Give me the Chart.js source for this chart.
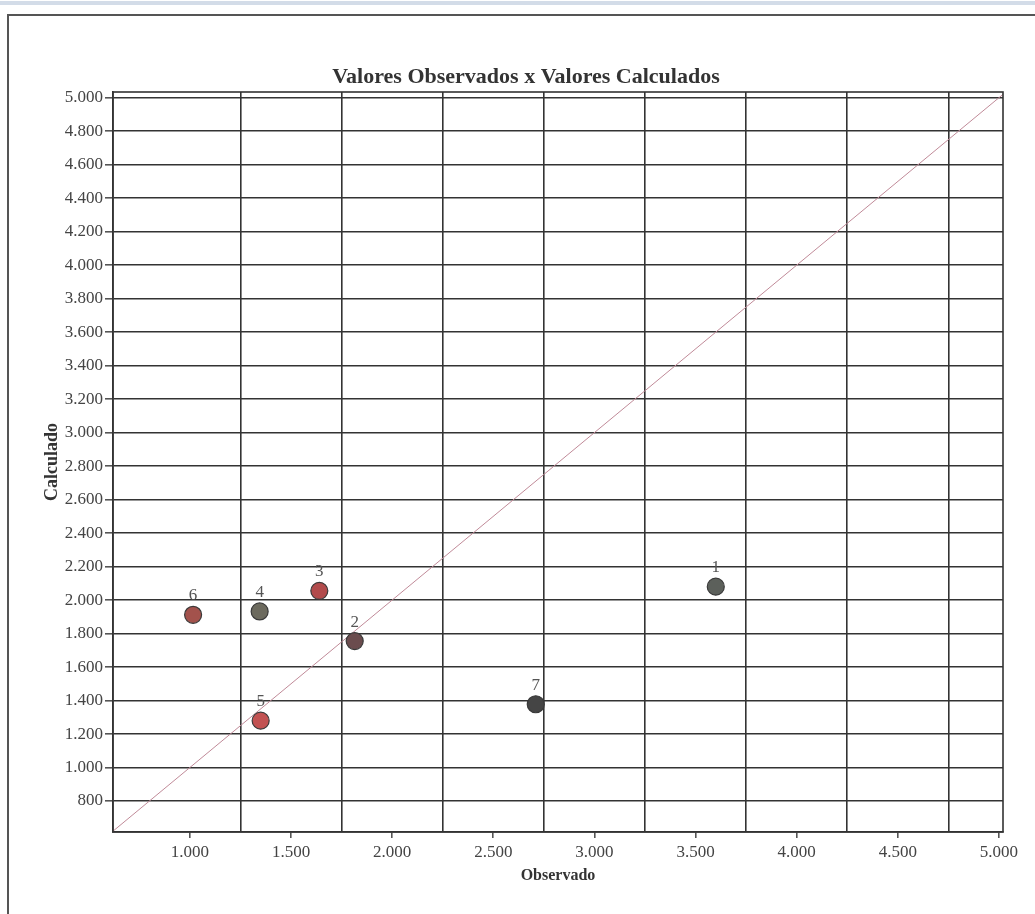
<!DOCTYPE html>
<html>
<head>
<meta charset="utf-8">
<title>Valores Observados x Valores Calculados</title>
<script src="https://cdn.jsdelivr.net/npm/chart.js@4.4.1/dist/chart.umd.min.js"></script>
<style>
    body { margin: 0; background: #fff; overflow: hidden; }
    #strip { position: absolute; left: 0; top: 1px; width: 1035px; height: 4px; background: #d3dce8; }
    #frame { position: absolute; left: 7px; top: 14px; width: 1100px; height: 1000px; border: 2px solid #555; }
    #container { position: absolute; left: 0; top: 0; width: 1035px; height: 914px; }
</style>
</head>
<body>
<div id="strip"></div>
<div id="frame"></div>
<div id="container"><canvas id="grafico"></canvas></div>
<script>
// pontos numerados (observado x calculado)
var pointLabels = ['1', '2', '3', '4', '5', '6', '7'];
var observado = [3600, 1815, 1640, 1345, 1350, 1016, 2710];
var calculado = [2080, 1755, 2055, 1932, 1280, 1912, 1378];
var pointColors = ['#5c605b', '#6b4c4e', '#b24b4c', '#6c6a5e', '#c25252', '#a3524c', '#454545'];

// reta y = x
var diagX = [620, 5020];
var diagY = [620, 5020];

// ticks
var xTickValues = [1000, 1500, 2000, 2500, 3000, 3500, 4000, 4500, 5000];
var xGridValues = [1250, 1750, 2250, 2750, 3250, 3750, 4250, 4750];
var yTickValues = [800, 1000, 1200, 1400, 1600, 1800, 2000, 2200, 2400, 2600, 2800, 3000,
    3200, 3400, 3600, 3800, 4000, 4200, 4400, 4600, 4800, 5000];

function fmt(v) { // 1000 -> 1.000
    var s = String(Math.round(v));
    return s.replace(/\B(?=(\d{3})+(?!\d))/g, '.');
}

var pontos = observado.map(function(x, i) {
    return { x: x, y: calculado[i] };
});
var diagonal = diagX.map(function(x, i) {
    return { x: x, y: diagY[i] };
});

// moldura da area do grafico e numeros dos pontos
var extras = {
    id: 'extras',
    afterDraw: function(chart) {
        var ctx = chart.ctx, a = chart.chartArea;
        ctx.save();
        ctx.strokeStyle = '#333';
        ctx.lineWidth = 1.6;
        ctx.strokeRect(a.left, a.top, a.right - a.left, a.bottom - a.top);
        var meta = chart.getDatasetMeta(0);
        ctx.fillStyle = '#555';
        ctx.font = '17px "Liberation Serif"';
        ctx.textAlign = 'center';
        ctx.textBaseline = 'middle';
        meta.data.forEach(function(el, i) {
            ctx.fillText(pointLabels[i], el.x, el.y - 19);
        });
        ctx.restore();
    }
};

var ctx = document.getElementById('grafico').getContext('2d');
new Chart(ctx, {
    type: 'scatter',
    data: {
        datasets: [{
            label: 'Pontos',
            data: pontos,
            pointRadius: 8.5,
            pointHoverRadius: 8.5,
            pointBackgroundColor: pointColors,
            pointBorderColor: '#3a3a3a',
            pointBorderWidth: 1.2
        }, {
            type: 'line',
            label: 'y = x',
            data: diagonal,
            borderColor: '#c08a98',
            borderWidth: 1,
            pointRadius: 0,
            fill: false
        }]
    },
    options: {
        responsive: true,
        maintainAspectRatio: false,
        animation: false,
        events: [],
        layout: { padding: { left: 49, right: 32, top: 0, bottom: 0 } },
        plugins: {
            legend: { display: false },
            tooltip: { enabled: false },
            title: {
                display: true,
                text: 'Valores Observados x Valores Calculados',
                color: '#333',
                font: { family: 'Liberation Serif', size: 22, weight: 'bold' },
                padding: { top: 63.8, bottom: 1.8 }
            }
        },
        scales: {
            x: {
                type: 'linear',
                min: 620,
                max: 5020,
                afterBuildTicks: function(scale) {
                    scale.ticks = xTickValues.concat(xGridValues).sort(function(a, b) { return a - b; })
                        .map(function(v) { return { value: v }; });
                },
                afterFit: function(scale) { scale.height = 82; },
                ticks: {
                    color: '#444',
                    font: { family: 'Liberation Serif', size: 17 },
                    padding: 4,
                    maxRotation: 0,
                    autoSkip: false,
                    callback: function(v) { return v % 500 === 0 ? fmt(v) : ''; }
                },
                grid: {
                    lineWidth: 1.6,
                    tickLength: 6,
                    color: function(c) { return c.tick && c.tick.value % 500 === 250 ? '#333' : 'rgba(0,0,0,0)'; },
                    tickColor: function(c) { return c.tick && c.tick.value % 500 === 0 ? '#555' : 'rgba(0,0,0,0)'; }
                },
                border: { color: '#333', width: 1.6 },
                title: {
                    display: true,
                    text: 'Observado',
                    color: '#333',
                    font: { family: 'Liberation Serif', size: 16, weight: 'bold' },
                    padding: { top: 0, bottom: 28.4 }
                }
            },
            y: {
                type: 'linear',
                min: 615,
                max: 5034,
                afterBuildTicks: function(scale) {
                    scale.ticks = yTickValues.map(function(v) { return { value: v }; });
                },
                afterFit: function(scale) { scale.width = 64; },
                ticks: {
                    color: '#444',
                    font: { family: 'Liberation Serif', size: 17 },
                    padding: 2,
                    autoSkip: false,
                    callback: function(v) { return fmt(v); }
                },
                grid: {
                    lineWidth: 1.6,
                    tickLength: 8,
                    color: '#333',
                    tickColor: '#555'
                },
                border: { color: '#333', width: 1.6 },
                title: {
                    display: true,
                    text: 'Calculado',
                    color: '#333',
                    font: { family: 'Liberation Serif', size: 18, weight: 'bold' },
                    padding: { top: -7, bottom: 0 }
                }
            }
        }
    },
    plugins: [extras]
});
</script>
</body>
</html>
